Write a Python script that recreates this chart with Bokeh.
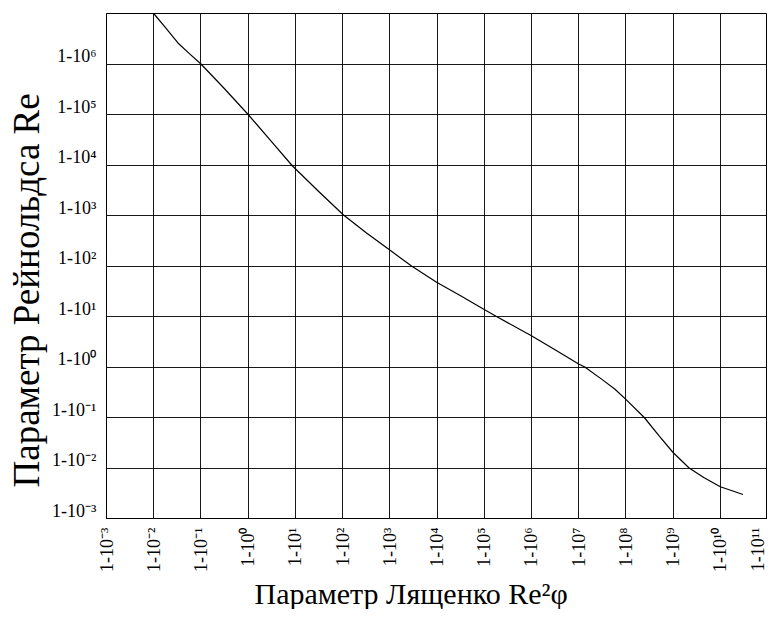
from bokeh.plotting import figure
from bokeh.models import FixedTicker, Title
from bokeh.embed import file_html
from bokeh.resources import INLINE

# ---- data (decimal exponents) ----
lyashchenko_exp = [-2.0, -1.75, -1.47, -1.25, -1.0, -0.525, 0.0, 0.5, 0.94, 1.5, 2.02, 2.5,
                   3.0, 3.46, 4.0, 4.5, 5.0, 5.26, 6.0, 6.5, 7.0, 7.13, 7.5, 7.77, 8.0, 8.39,
                   8.7, 9.0, 9.34, 9.65, 10.0, 10.25, 10.48]
reynolds_exp = [7.0, 6.72, 6.40, 6.21, 6.0, 5.535, 5.0, 4.46, 3.98, 3.47, 3.01, 2.66,
                2.315, 2.0, 1.673, 1.41, 1.14, 1.0, 0.618, 0.34, 0.06, 0.0, -0.25, -0.44,
                -0.64, -1.0, -1.36, -1.693, -2.0, -2.19, -2.372, -2.45, -2.525]

lyashchenko = [10.0 ** e for e in lyashchenko_exp]
reynolds = [10.0 ** e for e in reynolds_exp]

x_tick_values = [1e-3, 1e-2, 1e-1, 1e0, 1e1, 1e2, 1e3, 1e4, 1e5, 1e6, 1e7, 1e8, 1e9, 1e10, 1e11]
x_tick_labels = ["1-10⁻³", "1-10⁻²", "1-10⁻¹", "1-10⁰", "1-10¹", "1-10²", "1-10³", "1-10⁴",
                 "1-10⁵", "1-10⁶", "1-10⁷", "1-10⁸", "1-10⁹", "1-10¹⁰", "1-10¹¹"]
y_tick_values = [1e-3, 1e-2, 1e-1, 1e0, 1e1, 1e2, 1e3, 1e4, 1e5, 1e6, 1e7]
y_tick_labels = ["1-10⁻³", "1-10⁻²", "1-10⁻¹", "1-10⁰", "1-10¹", "1-10²", "1-10³", "1-10⁴",
                 "1-10⁵", "1-10⁶", ""]

x_title = "Параметр Лященко Re²φ"
y_title = "Параметр Рейнольдса Re"

FONT = "Liberation Serif"

p = figure(width=767, height=609, x_axis_type="log", y_axis_type="log",
           x_range=(1e-3, 1e11), y_range=(1e-3, 1e7),
           output_backend="svg", toolbar_location=None,
           min_border_left=105, min_border_right=0, min_border_top=13, min_border_bottom=91)
p.background_fill_color = "white"
p.border_fill_color = "white"
p.outline_line_color = "black"
p.outline_line_width = 1

p.line(lyashchenko, reynolds, line_color="black", line_width=1.2, line_join="round")

# grids
p.xgrid.ticker = FixedTicker(ticks=x_tick_values)
p.ygrid.ticker = FixedTicker(ticks=y_tick_values)
for g in (p.xgrid, p.ygrid):
    g.grid_line_color = "black"
    g.grid_line_alpha = 0.9
    g.grid_line_width = 1
    g.minor_grid_line_color = None

# axes
p.xaxis.ticker = FixedTicker(ticks=x_tick_values)
p.yaxis.ticker = FixedTicker(ticks=y_tick_values)
p.xaxis.major_label_overrides = dict(zip(x_tick_values, x_tick_labels))
p.yaxis.major_label_overrides = {v: (t + "\n" if t else t) for v, t in zip(y_tick_values, y_tick_labels)}
for ax in (p.xaxis, p.yaxis):
    ax.axis_line_color = "black"
    ax.major_tick_line_color = None
    ax.minor_tick_line_color = None
    ax.major_label_text_font = FONT
    ax.major_label_text_font_size = "18px"
    ax.major_label_text_color = "black"
p.xaxis.major_label_orientation = 1.5707963
p.xaxis.major_label_standoff = 3
p.yaxis.major_label_standoff = 4
p.yaxis.major_label_text_line_height = 0.8

p.add_layout(Title(text=y_title, align="left", offset=31, text_font=FONT,
                   text_font_size="37px", text_font_style="normal",
                   text_color="black", standoff=6), "left")

p.add_layout(Title(text=x_title, align="left", offset=148, text_font=FONT,
                   text_font_size="30px", text_font_style="normal",
                   text_color="black", standoff=0), "below")

open("out.html", "w").write(file_html(p, INLINE))
